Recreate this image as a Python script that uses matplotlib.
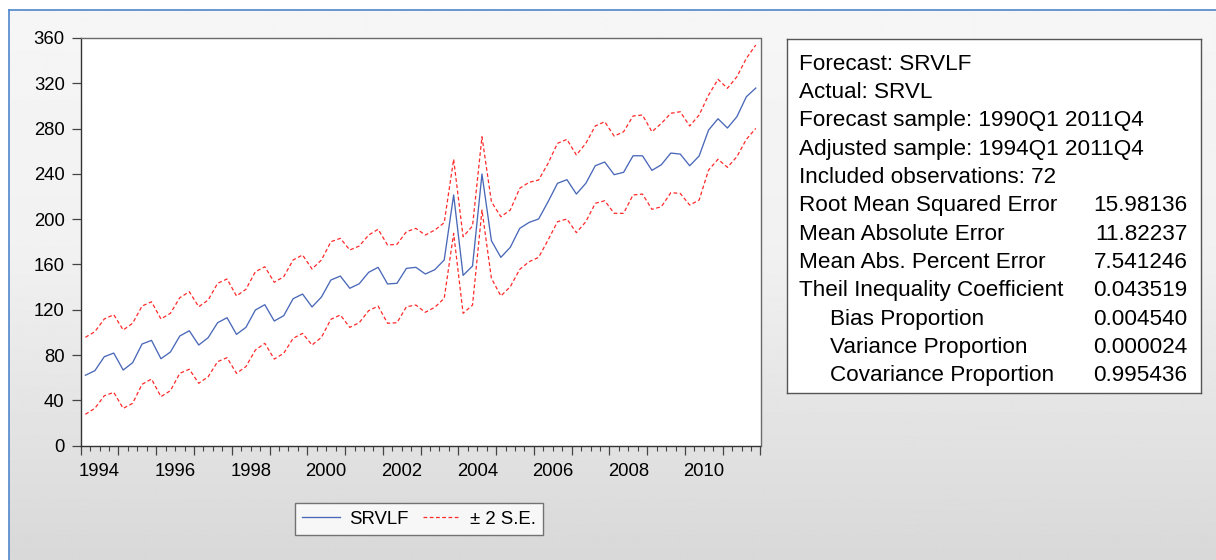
import numpy as np
import matplotlib
matplotlib.use("Agg")
import matplotlib.pyplot as plt
from matplotlib.transforms import blended_transform_factory

plt.rcParams['font.family'] = ['Liberation Sans', 'DejaVu Sans']

# ---------------- data (1994Q1 .. 2011Q4, quarterly) ----------------
start_year = 1994
n_obs = 72

srvlf = [62.2, 66.2, 78.6, 81.8, 66.8, 73.3, 89.8, 93.0,
         76.8, 82.7, 96.9, 101.5, 88.9, 95.4, 108.6, 113.0,
         98.3, 104.5, 119.8, 124.5, 110.1, 114.8, 129.8, 133.9,
         122.5, 131.3, 146.3, 149.8, 139.0, 143.0, 153.1, 157.5,
         142.8, 143.4, 156.6, 157.5, 151.6, 155.4, 164.0, 221.4,
         150.4, 158.7, 239.9, 181.0, 166.3, 175.2, 191.9, 197.2,
         200.2, 215.4, 231.7, 234.9, 222.2, 231.7, 247.2, 250.5,
         239.3, 241.4, 256.0, 256.0, 243.1, 248.1, 258.4, 257.5,
         247.2, 255.8, 278.7, 288.7, 280.5, 290.5, 308.1, 315.8]

upper = [95.7, 100.7, 111.9, 115.7, 102.2, 108.1, 123.3, 127.1,
         111.9, 116.9, 130.7, 136.0, 122.7, 128.6, 143.4, 147.2,
         132.2, 138.1, 153.6, 158.0, 144.3, 149.2, 164.0, 168.4,
         156.0, 164.0, 180.1, 183.1, 172.8, 176.3, 186.0, 191.1,
         177.2, 177.8, 189.0, 191.9, 186.0, 190.4, 196.9, 252.9,
         184.5, 194.0, 272.8, 215.4, 202.2, 208.1, 227.3, 232.6,
         234.6, 249.3, 267.0, 270.5, 256.7, 267.0, 282.3, 286.1,
         273.4, 277.2, 291.1, 292.0, 277.2, 284.6, 293.5, 294.9,
         282.3, 292.0, 309.6, 323.5, 315.6, 325.8, 342.0, 353.8]

lower = [27.7, 33.0, 44.1, 47.1, 33.0, 37.4, 54.2, 58.9,
         43.3, 48.6, 63.9, 67.5, 55.1, 60.9, 74.2, 77.7,
         63.9, 69.8, 84.5, 90.4, 76.5, 81.6, 94.8, 99.2,
         88.9, 95.7, 111.6, 115.4, 104.5, 108.6, 119.2, 123.3,
         108.1, 108.6, 122.7, 124.2, 117.8, 122.2, 130.1, 187.5,
         116.9, 124.2, 208.1, 147.8, 132.2, 140.4, 155.7, 162.5,
         166.3, 181.6, 197.8, 200.2, 188.1, 197.8, 214.0, 216.3,
         205.2, 205.2, 221.4, 222.2, 208.7, 211.0, 223.4, 222.8,
         212.5, 216.9, 243.4, 252.9, 245.8, 255.2, 270.5, 280.2]

year_labels = ["1994", "1996", "1998", "2000", "2002", "2004", "2006", "2008", "2010"]
y_ticks = [0, 40, 80, 120, 160, 200, 240, 280, 320, 360]

stats_labels = ["Forecast: SRVLF", "Actual: SRVL",
                "Forecast sample: 1990Q1 2011Q4",
                "Adjusted sample: 1994Q1 2011Q4",
                "Included observations: 72",
                "Root Mean Squared Error", "Mean Absolute Error",
                "Mean Abs. Percent Error", "Theil Inequality Coefficient",
                "Bias Proportion", "Variance Proportion", "Covariance Proportion"]
stats_values = ["", "", "", "", "", "15.98136", "11.82237", "7.541246",
                "0.043519", "0.004540", "0.000024", "0.995436"]
stats_indent = [0, 0, 0, 0, 0, 0, 0, 0, 0, 1, 1, 1]

# ---------------- figure ----------------
W, H = 1216, 560
fig = plt.figure(figsize=(W / 100, H / 100), dpi=100)

# background gradient
bg = fig.add_axes([0, 0, 1, 1], zorder=-10)
yy = np.linspace(0, H, 400)
vals = np.interp(yy, [0, 250, 560], [0.965, 0.945, 0.848])
grad = np.repeat(vals[:, None], 2, axis=1)
bg.imshow(grad, cmap='gray', vmin=0, vmax=1, aspect='auto',
          extent=[0, W, H, 0], interpolation='bilinear')
bg.set_xlim(0, W)
bg.set_ylim(H, 0)
bg.fill_between([0, W], 0, 9.5, color='white', lw=0)
bg.fill_between([0, 8.5], 0, H, color='white', lw=0)
bg.plot([8.5, W], [9.5, 9.5], color='#4f86cc', lw=1.2)
bg.plot([8.5, 8.5], [9.5, H], color='#4f86cc', lw=1.2)
bg.axis('off')


def px(x0, y0, x1, y1):
    return [x0 / W, 1 - y1 / H, (x1 - x0) / W, (y1 - y0) / H]


ax = fig.add_axes(px(80.7, 38, 760.5, 445.7))
ax.set_facecolor('white')

t = start_year + (np.arange(n_obs) + 0.5) / 4.0
ax.plot(t, srvlf, color='#4a68b8', lw=0.95, label='SRVLF')
ax.plot(t, upper, color='#ff2a2a', lw=0.9, dashes=(3, 2), label='\u00b1 2 S.E.')
ax.plot(t, lower, color='#ff2a2a', lw=0.9, dashes=(3, 2))

ax.set_xlim(1994, 2012)
ax.set_ylim(0, 360)
ax.set_yticks(y_ticks)
ax.set_yticklabels([str(v) for v in y_ticks], fontsize=13.3)
ax.set_xticks(np.arange(1994, 2013))
ax.set_xticklabels([])
ax.set_xticks(np.arange(1994, 2012.01, 0.25), minor=True)
ax.tick_params(axis='y', direction='out', length=6.5, width=0.9, pad=5,
               color='#444444')
ax.tick_params(axis='x', which='major', direction='out', length=6.5, width=0.9,
               color='#444444')
ax.tick_params(axis='x', which='minor', direction='out', length=3.5, width=0.8,
               color='#444444')
for s in ax.spines.values():
    s.set_color('#6a6a6a')
    s.set_linewidth(1.0)
ax.spines['left'].set_color('#333333')
ax.spines['bottom'].set_color('#333333')

trans = blended_transform_factory(ax.transData, fig.transFigure)
for lab in year_labels:
    yr = int(lab)
    ax.text(yr + 0.5, 1 - 471 / H, lab, transform=trans, ha='center',
            va='center', fontsize=13.3)

# legend
leg = ax.legend(loc='center', bbox_to_anchor=(419 / W, 1 - 519 / H),
                bbox_transform=fig.transFigure, ncol=2, frameon=True,
                fancybox=False, fontsize=13.4, handlelength=2.0,
                columnspacing=0.8, handletextpad=0.5, borderpad=0.4)
leg.get_frame().set_edgecolor('#555555')
leg.get_frame().set_linewidth(1.0)

# stats box
box = fig.add_axes(px(787, 38.7, 1200.7, 392.7))
box.set_xticks([])
box.set_yticks([])
box.set_facecolor('white')
for s in box.spines.values():
    s.set_color('#555555')
    s.set_linewidth(1.0)

for i, (lab, val, ind) in enumerate(zip(stats_labels, stats_values, stats_indent)):
    yc = 61.7 + i * 28.33
    x = 799.3 if ind == 0 else 830
    fig.text(x / W, 1 - yc / H, lab, ha='left', va='center_baseline', fontsize=16.2)
    if val:
        fig.text(1187.5 / W, 1 - yc / H, val, ha='right', va='center_baseline',
                 fontsize=16.2)

fig.savefig('out.png', dpi=100)
